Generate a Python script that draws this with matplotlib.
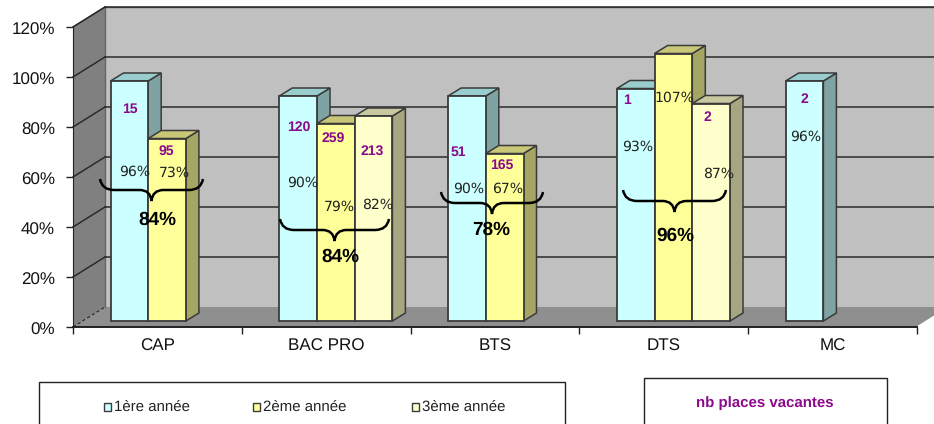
import matplotlib
matplotlib.use("Agg")
import matplotlib.pyplot as plt
from matplotlib.patches import Polygon, Rectangle, PathPatch
from matplotlib.path import Path
from matplotlib.transforms import ScaledTranslation

categories = ["CAP", "BAC PRO", "BTS", "DTS", "MC"]
series_names = ["1ère année", "2ème année", "3ème année"]
annee1 = [96, 90, 90, 93, 96]
annee2 = [73, 79, 67, 107, None]
annee3 = [None, 82, None, 87, None]
vacant1 = ["15", "120", "51", "1", "2"]
vacant2 = ["95", "259", "165", "", ""]
vacant3 = ["", "213", "", "2", ""]
totaux = ["84%", "84%", "78%", "96%"]
y_ticks = [0, 20, 40, 60, 80, 100, 120]

W, H = 934, 424
# mise en page, en pixels de l'image
LEFT, RIGHT, TOP, BOTTOM = 73, 917, 27, 327
DEPTH_X, DEPTH_Y = 32, 20
BAR_DX, BAR_DY = 13, 8
PX_Y = (BOTTOM - TOP) / 120
PX_X = (RIGHT - LEFT) / 5

face = ["#CCFFFF", "#FFFF99", "#FFFFCC"]
top_c = ["#99CCCC", "#C8C878", "#C8C8A0"]
side = ["#7FA3A3", "#A6A664", "#A6A680"]
edge = "#3a3a3a"
purple = "#8B0A8B"

plt.rcParams["font.family"] = ["Liberation Sans", "DejaVu Sans"]
plt.rcParams["text.hinting"] = "no_hinting"
plt.rcParams["text.hinting_factor"] = 1
fig = plt.figure(figsize=(W / 100, H / 100), dpi=100)
ax = fig.add_axes([LEFT / W, 1 - BOTTOM / H, (RIGHT - LEFT) / W, (BOTTOM - TOP) / H])
ax.set_xlim(0, 5)
ax.set_ylim(0, 120)
ax.patch.set_visible(False)


def X(px):
    return (px - LEFT) / PX_X


def Y(py):
    return (BOTTOM - py) / PX_Y


def poly(pts, fc, z):
    ax.add_patch(Polygon([(X(a), Y(b)) for a, b in pts], closed=True, fc=fc, ec="none",
                         zorder=z, clip_on=False))


# parois 3D
bx, by = LEFT + DEPTH_X, BOTTOM - DEPTH_Y
poly([(bx, TOP - DEPTH_Y), (RIGHT + DEPTH_X, TOP - DEPTH_Y), (RIGHT + DEPTH_X, by), (bx, by)], "#C0C0C0", 1)
poly([(LEFT, TOP), (bx, TOP - DEPTH_Y), (bx, by), (LEFT, BOTTOM)], "#808080", 1)
poly([(LEFT, BOTTOM), (bx, by), (RIGHT + DEPTH_X, by), (RIGHT, BOTTOM)], "#8F8F8F", 1)
ax.plot([X(bx), X(RIGHT + DEPTH_X)], [Y(TOP - DEPTH_Y)] * 2, color="#555555", lw=1, zorder=2, clip_on=False)
ax.plot([X(LEFT), X(bx)], [Y(TOP), Y(TOP - DEPTH_Y)], color="#555555", lw=1, zorder=2, clip_on=False)
ax.plot([X(bx), X(bx)], [Y(by), Y(TOP - DEPTH_Y)], color="#666666", lw=1, zorder=2, clip_on=False)
for t in y_ticks[1:]:
    yb = Y(BOTTOM - t * PX_Y - DEPTH_Y)
    ax.plot([X(bx), X(RIGHT + DEPTH_X)], [yb, yb], color="#2a2a2a", lw=1.1, zorder=2, clip_on=False)
    ax.plot([0, X(bx)], [t, yb], color="#2a2a2a", lw=1.1, zorder=2, clip_on=False)
ax.plot([0, X(bx)], [0, Y(by)], color="#222222", lw=0.8, ls=(0, (3, 2)), zorder=2)
ax.plot([X(RIGHT), X(RIGHT + DEPTH_X)], [0, Y(by)], color="white", lw=1, zorder=2, clip_on=False)

# barres : base décalée vers le fond, 3 emplacements par catégorie
base = Y(321)
bar_w = X(LEFT + 37.7)
group_start = X(LEFT + 37.5)
for s, vals in enumerate([annee1, annee2, annee3]):
    for i, v in enumerate(vals):
        if v is None:
            continue
        x0 = i + group_start + s * bar_w
        x1 = x0 + bar_w
        ax.add_patch(Polygon([(x1, base), (x1 + BAR_DX / PX_X, base + BAR_DY / PX_Y),
                              (x1 + BAR_DX / PX_X, base + v + BAR_DY / PX_Y), (x1, base + v)],
                             fc=side[s], ec=edge, lw=1.1, zorder=3 + s, clip_on=False))
        ax.add_patch(Polygon([(x0, base + v), (x0 + BAR_DX / PX_X, base + v + BAR_DY / PX_Y),
                              (x1 + BAR_DX / PX_X, base + v + BAR_DY / PX_Y), (x1, base + v)],
                             fc=top_c[s], ec=edge, lw=1.1, zorder=3 + s, clip_on=False))
        ax.bar(x0, v, bar_w, bottom=base, align="edge", color=face[s], edgecolor=edge, lw=1.3, zorder=3 + s)

# axes
ax.spines[["top", "right"]].set_visible(False)
ax.spines["left"].set_color("#222222")
ax.spines["bottom"].set_color("#222222")
ax.spines["bottom"].set_linewidth(1.4)
ax.spines["left"].set_zorder(2)
ax.set_xticks(range(6))
ax.set_xticklabels([])
ax.set_xticks([i + 0.5 for i in range(5)], minor=True)
ax.set_xticklabels(categories, minor=True, fontsize=12, color="#111111")
ax.tick_params(axis="x", which="minor", length=0, pad=8)
ax.tick_params(axis="x", which="major", length=5, width=1, color="#222222")
ax.set_yticks(y_ticks)
ax.set_yticklabels([f"{t}%" for t in y_ticks], fontsize=12.5, color="#111111")
ax.tick_params(axis="y", length=5, width=1, color="#222222", pad=8)
for lab in ax.get_yticklabels():
    lab.set_transform(lab.get_transform() + ScaledTranslation(0, -2 / 100, fig.dpi_scale_trans))

# étiquettes posées à la main sur le graphique
pct_labels = [("96%", 135, 172), ("73%", 174, 173), ("90%", 303, 183), ("79%", 339, 207),
              ("82%", 378, 205), ("90%", 469, 189), ("67%", 508, 189), ("93%", 638, 147),
              ("107%", 674, 98), ("87%", 719, 174), ("96%", 806, 137)]
for txt, px, py in pct_labels:
    ax.text(X(px), Y(py), txt, fontsize=10, color="#222222", ha="center", va="center",
            family="DejaVu Sans", zorder=8)

vac_pos = [[(130, 109), (299, 127), (458, 152), (627, 100), (804, 99)],
           [(166, 151), (333, 138), (502, 165), None, None],
           [None, (372, 151), None, (707, 117), None]]
for lab, pos in zip([vacant1, vacant2, vacant3], vac_pos):
    for txt, p in zip(lab, pos):
        if txt and p:
            ax.text(X(p[0]), Y(p[1]), txt, fontsize=10, fontweight="bold", color=purple,
                    ha="center", va="center", zorder=8)

# accolades
braces = [(100, 203, 179), (280, 389, 219), (441, 543, 192), (623, 726, 190)]
tot_pos = [(157, 220), (340, 257), (491, 230), (675, 236)]
for (a, b, yt), txt, (tx, ty) in zip(braces, totaux, tot_pos):
    m = (a + b) / 2
    pts = [(a, yt), (a + 2, yt + 11), (a + 14, yt + 11), (m - 12, yt + 11),
           (m - 1, yt + 11), (m, yt + 22), (m + 1, yt + 11), (m + 12, yt + 11),
           (b - 14, yt + 11), (b - 2, yt + 11), (b, yt)]
    codes = [Path.MOVETO, Path.CURVE3, Path.CURVE3, Path.LINETO, Path.CURVE3,
             Path.CURVE3, Path.CURVE3, Path.CURVE3, Path.LINETO, Path.CURVE3, Path.CURVE3]
    ax.add_patch(PathPatch(Path([(X(p), Y(q)) for p, q in pts], codes), fc="none", ec="black",
                           lw=1.8, zorder=9, clip_on=False))
    ax.text(X(tx), Y(ty), txt, fontsize=13.5, fontweight="bold", color="black", ha="center",
            va="center", zorder=9)

# légende et encadré (coupés par le bas de l'image)
for px0, px1, py0 in [(39, 565, 382), (644, 887, 378)]:
    fig.add_artist(Rectangle((px0 / W, -0.05), (px1 - px0) / W, 1 - py0 / H + 0.05, transform=fig.transFigure,
                             fc="white", ec="#222222", lw=1))
for name, col, mx in zip(series_names, face, [104, 253, 412]):
    fig.add_artist(Rectangle((mx / W, 1 - 411 / H), 7 / W, 8 / H, transform=fig.transFigure,
                             fc=col, ec=edge, lw=1))
    fig.text((mx + 10) / W, 1 - 407 / H, name, fontsize=10.5, color="#222222", ha="left", va="center")
fig.text(765 / W, 1 - 403 / H, "nb places vacantes", fontsize=10.5, fontweight="bold", color=purple,
         ha="center", va="center")

fig.savefig("out.png", dpi=100)
